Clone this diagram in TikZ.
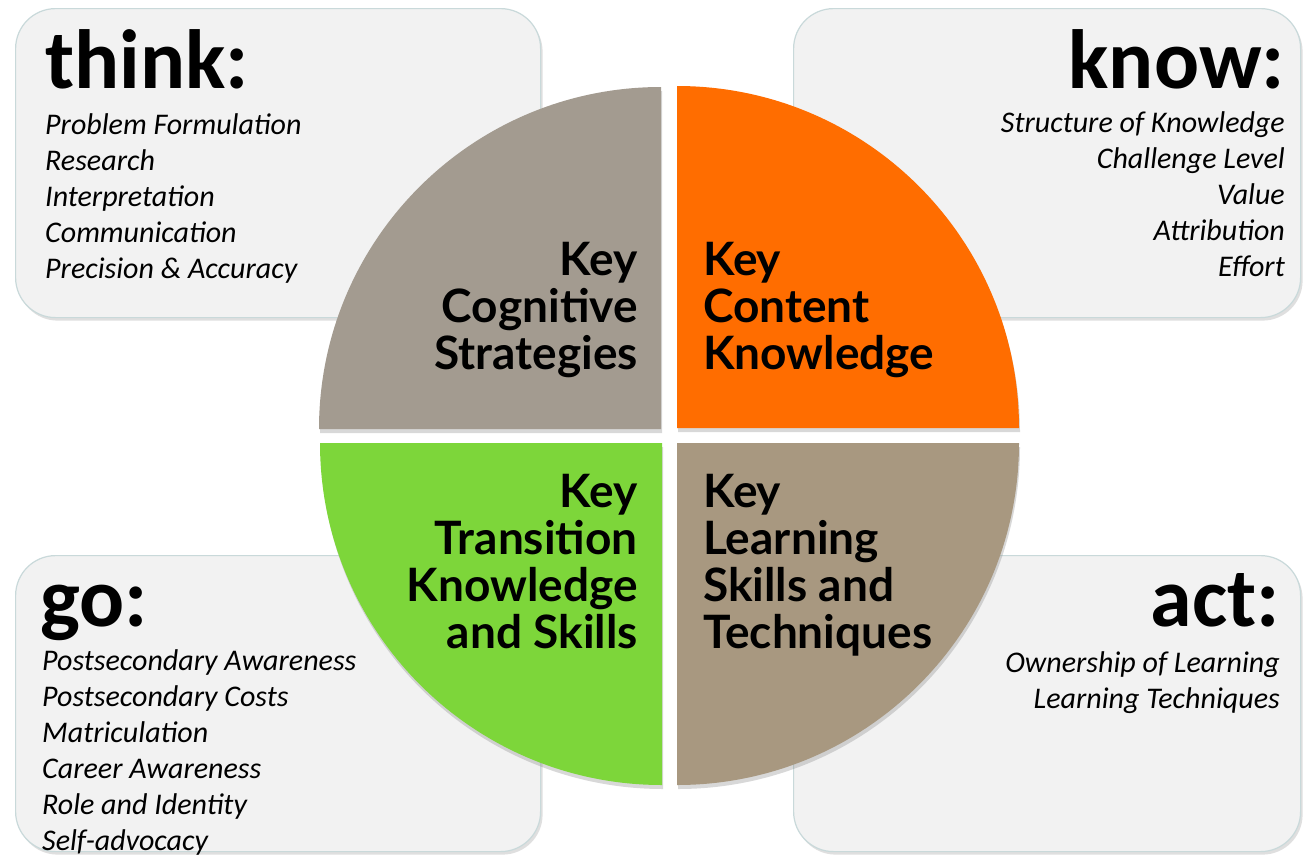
\documentclass[tikz,border=0pt]{standalone}
\usepackage{fontspec}
\setmainfont{Carlito}
\newfontfamily\keyfont{Lato}
\usetikzlibrary{positioning}
\usetikzlibrary{shadows}

\definecolor{boxfill}{HTML}{F2F2F2}
\definecolor{boxline}{HTML}{C9D9DA}
\definecolor{cogngray}{HTML}{A39B90}
\definecolor{contorange}{HTML}{FF6D00}
\definecolor{transgreen}{HTML}{7DD63A}
\definecolor{learntan}{HTML}{A89880}

\tikzset{
    panel/.style={draw=boxline, line width=1.2pt, fill=boxfill, rounded corners=40pt,
        anchor=north west, inner sep=0pt,
        drop shadow={opacity=0.25, shadow xshift=2pt, shadow yshift=-3pt}},
    head/.style={font=\fontsize{84}{84}\selectfont\bfseries, inner sep=0pt},
    items/.style={font=\fontsize{30}{36}\selectfont\itshape, inner sep=0pt},
    keylabel/.style={font=\keyfont\fontsize{46}{47}\selectfont\bfseries, inner sep=0pt},
    quarter/.style={drop shadow={opacity=0.3, shadow xshift=1pt, shadow yshift=-4pt}}
}

\begin{document}
\begin{tikzpicture}[x=1pt, y=1pt]
    \useasboundingbox (0,0) rectangle (1306,-857);
    \fill[white] (0,0) rectangle (1306,-857);
    % panels
    \node[panel, minimum width=525pt, minimum height=309pt] (thinkbox) at (15,-8) {};
    \node[panel, minimum width=507pt, minimum height=309pt] (knowbox) at (793,-8) {};
    \node[panel, minimum width=525pt, minimum height=296pt] (gobox) at (15,-555) {};
    \node[panel, minimum width=507pt, minimum height=296pt] (actbox) at (793,-555) {};
    % headings and lists (lists hang from their last baseline)
    \node[head, anchor=base west] (think) at (45,-88) {think:};
    \node[items, align=left, below=190pt of think.base west, anchor=base west] (thinklist)
        {Problem Formulation\\Research\\Interpretation\\Communication\\Precision \& Accuracy};
    \node[head, anchor=base east] (know) at (1285,-88) {know:};
    \node[items, align=right, below=188pt of know.base east, anchor=base east] (knowlist)
        {Structure of Knowledge\\Challenge Level\\Value\\Attribution\\Effort};
    \node[head, anchor=base west] (go) at (40,-626) {go:};
    \node[items, align=left, below=224pt of go.base west, anchor=base west, xshift=2pt] (golist)
        {Postsecondary Awareness\\Postsecondary Costs\\Matriculation\\Career Awareness\\Role and Identity\\Self-advocacy};
    \node[head, anchor=base east] (act) at (1280,-626) {act:};
    \node[items, align=right, below=82pt of act.base east, anchor=base east] (actlist)
        {Ownership of Learning\\Learning Techniques};
    % quarters
    \fill[cogngray, quarter] (661,-429) -- ++(-342,0) arc[start angle=180, end angle=90, radius=342] -- cycle;
    \fill[contorange, quarter] (677,-428) -- ++(0,342) arc[start angle=90, end angle=0, radius=342] -- cycle;
    \fill[transgreen, quarter] (662,-443) -- ++(-342,0) arc[start angle=180, end angle=270, radius=342] -- cycle;
    \fill[learntan, quarter] (677,-443) -- ++(342,0) arc[start angle=0, end angle=-90, radius=342] -- cycle;
    \node[keylabel, align=right, anchor=base east] (cogn) at (638,-369) {Key\\Cognitive\\Strategies};
    \node[keylabel, align=left, anchor=base west] (cont) at (703,-369) {Key\\Content\\Knowledge};
    \node[keylabel, align=right, anchor=base east] (trans) at (638,-648) {Key\\Transition\\Knowledge\\and Skills};
    \node[keylabel, align=left, anchor=base west] (learn) at (703,-648) {Key\\Learning\\Skills and\\Techniques};
\end{tikzpicture}
\end{document}
